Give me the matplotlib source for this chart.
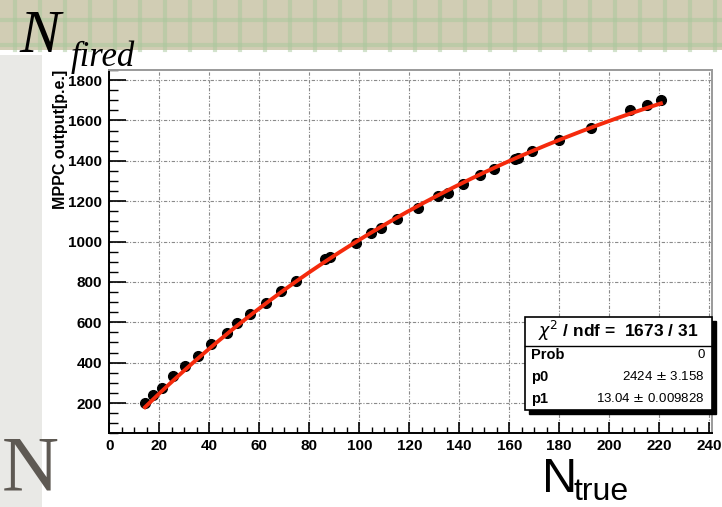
import numpy as np
import matplotlib
matplotlib.use("Agg")
import matplotlib.pyplot as plt
from matplotlib.patches import Rectangle
from matplotlib.lines import Line2D
from matplotlib.ticker import MultipleLocator

# measured points: true photon count vs MPPC output
n_true = [14.3, 17.6, 21.2, 25.6, 30.4, 35.4, 40.6, 47.0, 51.2, 56.3, 62.5,
          68.7, 74.7, 86.3, 88.3, 98.7, 104.6, 108.7, 115.2, 123.6, 131.6,
          135.4, 141.6, 148.3, 154.0, 162.3, 163.6, 169.0, 180.0, 192.6,
          208.3, 215.0, 220.7]
n_fired = [200, 241, 276, 332, 385, 435, 491, 549, 595, 642, 696, 754, 807,
           915, 923, 994, 1040, 1067, 1113, 1168, 1225, 1242, 1287, 1328,
           1358, 1407, 1412, 1449, 1502, 1561, 1650, 1677, 1700]

# fit result: N_fired = p0 * (1 - exp(-p1 * N_true / p0))
p0, p0_err = 2424, 3.158
p1, p1_err = 13.04, 0.009828
chi2, ndf = 1673, 31
prob = 0

W, H = 722, 507


def fx(px):
    return px / W


def fy(py):
    return 1 - py / H


fig = plt.figure(figsize=(W / 100, H / 100), dpi=100)
fig.patch.set_facecolor("white")

# graph-paper strip across the top and grey strip down the left
fig.add_artist(Rectangle((0, fy(50)), 1, 50 / H, transform=fig.transFigure,
                         facecolor="#d1cdb4", edgecolor="none", zorder=-3))
for gx in np.arange(15, W, 25):
    fig.add_artist(Line2D([fx(gx), fx(gx)], [fy(50), 1], transform=fig.transFigure,
                          color="#a9c89c", lw=3, alpha=0.5, zorder=-2))
for gy in [20, 45]:
    fig.add_artist(Line2D([0, 1], [fy(gy), fy(gy)], transform=fig.transFigure,
                          color="#a9c89c", lw=3, alpha=0.5, zorder=-2))
fig.add_artist(Rectangle((0, 0), fx(42), fy(55), transform=fig.transFigure,
                         facecolor="#e9e9e6", edgecolor="none", zorder=-3))

ax = fig.add_axes([fx(109.3), fy(433.3), fx(711.7) - fx(109.3), fy(70) - fy(433.3)])
ax.set_facecolor("white")

ax.plot(n_true, n_fired, "o", color="black", markersize=7, zorder=4)
xs = np.linspace(min(n_true), max(n_true), 300)
ax.plot(xs, p0 * (1 - np.exp(-p1 * xs / p0)), color="#f52a0c", lw=2.8, zorder=5)

ax.set_xlim(0, 241)
ax.set_ylim(50, 1850)
ax.xaxis.set_major_locator(MultipleLocator(20))
ax.xaxis.set_minor_locator(MultipleLocator(5))
ax.yaxis.set_major_locator(MultipleLocator(200))
ax.yaxis.set_minor_locator(MultipleLocator(50))
ax.grid(True, which="major", color="#8a8a8a", lw=0.8, linestyle=(0, (3, 1.5, 1, 1.5)))

ax.tick_params(axis="x", which="major", direction="in", length=8, width=1.2, pad=4)
ax.tick_params(axis="x", which="minor", direction="in", length=4, width=1.0)
ax.tick_params(axis="y", which="major", direction="in", length=12, width=1.2, pad=5)
ax.tick_params(axis="y", which="minor", direction="in", length=6.5, width=1.0)
for lab in ax.get_xticklabels() + ax.get_yticklabels():
    lab.set_fontfamily("Liberation Sans")
    lab.set_fontweight("bold")
    lab.set_fontsize(11)

for side in ["left", "bottom"]:
    ax.spines[side].set_linewidth(1.4)
    ax.spines[side].set_color("black")
for side in ["top", "right"]:
    ax.spines[side].set_linewidth(1.4)
    ax.spines[side].set_color("#9a9a9a")

fig.text(fx(60), fy(70), "MPPC output[p.e.]", rotation=90, ha="center", va="top",
         fontsize=11.5, fontweight="bold", family="Liberation Sans")

# stat box with drop shadow
bx0, bx1, by0, by1 = 525, 711.7, 316.7, 410
fig.add_artist(Rectangle((fx(bx0 + 4), fy(by1 + 4)), fx(bx1) - fx(bx0), fy(by0) - fy(by1),
                         transform=fig.transFigure, facecolor="black", edgecolor="black", zorder=6))
fig.add_artist(Rectangle((fx(bx0), fy(by1)), fx(bx1) - fx(bx0), fy(by0) - fy(by1),
                         transform=fig.transFigure, facecolor="white", edgecolor="black",
                         lw=1.2, zorder=7))
fig.add_artist(Line2D([fx(bx0), fx(bx1)], [fy(346), fy(346)], transform=fig.transFigure,
                      color="black", lw=1.0, zorder=8))
fig.text(fx((bx0 + bx1) / 2), fy(331), r"$\chi^{2}$ / ndf =  %d / %d" % (chi2, ndf),
         ha="center", va="center", fontsize=12.5, fontweight="bold",
         family="Liberation Sans", zorder=9)
rows = [("Prob", "%d" % prob, 355),
        ("p0", "%d $\\pm$ %.3f" % (p0, p0_err), 377),
        ("p1", "%.2f $\\pm$ %.6f" % (p1, p1_err), 399)]
for name, val, ry in rows:
    fig.text(fx(bx0 + 6), fy(ry), name, ha="left", va="center", fontsize=10.5,
             fontweight="bold", family="Liberation Sans", zorder=9)
    fig.text(fx(bx1 - 7), fy(ry), val, ha="right", va="center", fontsize=9.5,
             family="Liberation Sans", zorder=9)

# slide labels
fig.text(fx(19), fy(52), "N", fontsize=44, style="italic", family="Liberation Serif",
         ha="left", va="baseline", zorder=10)
fig.text(fx(71), fy(66), "fired", fontsize=25, style="italic", family="Liberation Serif",
         ha="left", va="baseline", zorder=10)
fig.text(fx(2), fy(489), "N", fontsize=57, family="Liberation Serif", color="#5e5953",
         ha="left", va="baseline", zorder=10)
fig.text(fx(542), fy(492), "N", fontsize=35, family="Liberation Sans", color="black",
         ha="left", va="baseline", zorder=10)
fig.text(fx(573), fy(500), "true", fontsize=23, family="Liberation Sans", color="black",
         ha="left", va="baseline", zorder=10)

fig.savefig("out.png", dpi=100)
